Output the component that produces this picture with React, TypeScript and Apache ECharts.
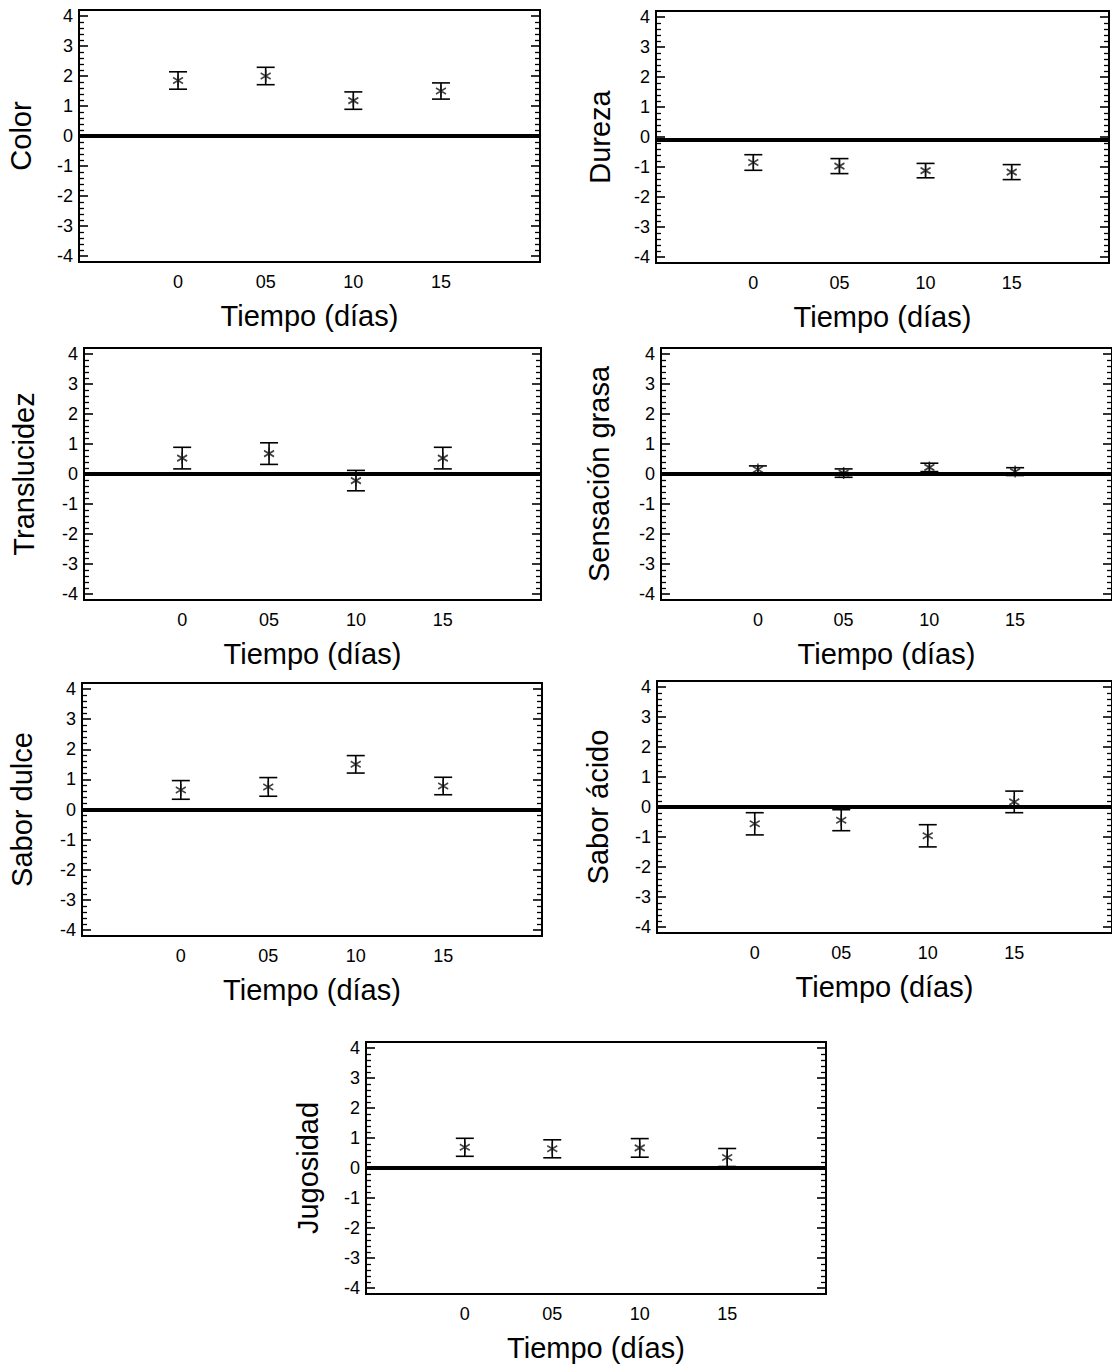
import React, { useEffect, useRef } from "react";
import * as echarts from "echarts";

// ---- Data ----
const timeValues = [0, 5, 10, 15];
const timeLabels = ["0", "05", "10", "15"];
const yTickValues = [-4, -3, -2, -1, 0, 1, 2, 3, 4];

const colorMean = [1.85, 2.0, 1.18, 1.5];
const colorErr = [0.29, 0.29, 0.29, 0.27];

const durezaMean = [-0.85, -0.97, -1.12, -1.17];
const durezaErr = [0.26, 0.25, 0.24, 0.25];

const translucidezMean = [0.53, 0.68, -0.22, 0.53];
const translucidezErr = [0.36, 0.36, 0.34, 0.36];

const grasaMean = [0.15, 0.03, 0.22, 0.08];
const grasaErr = [0.12, 0.14, 0.14, 0.13];

const dulceMean = [0.65, 0.75, 1.5, 0.78];
const dulceErr = [0.31, 0.31, 0.29, 0.29];

const acidoMean = [-0.56, -0.44, -0.96, 0.17];
const acidoErr = [0.37, 0.35, 0.37, 0.36];

const jugosidadMean = [0.69, 0.64, 0.67, 0.35];
const jugosidadErr = [0.3, 0.3, 0.31, 0.3];

const refLines = [0, -0.1, 0, 0, 0, 0, 0];

const panels = [
  { label: "Color", mean: colorMean, err: colorErr, box: [79, 10, 461, 252], gap: 44 },
  { label: "Dureza", mean: durezaMean, err: durezaErr, box: [656, 11, 453, 252], gap: 42 },
  { label: "Translucidez", mean: translucidezMean, err: translucidezErr, box: [84, 348, 457, 252], gap: 46 },
  { label: "Sensación grasa", mean: grasaMean, err: grasaErr, box: [661, 348, 453, 252], gap: 48 },
  { label: "Sabor dulce", mean: dulceMean, err: dulceErr, box: [82, 683, 460, 253], gap: 46 },
  { label: "Sabor ácido", mean: acidoMean, err: acidoErr, box: [657, 681, 455, 252], gap: 45 },
  { label: "Jugosidad", mean: jugosidadMean, err: jugosidadErr, box: [366, 1042, 460, 252], gap: 44 },
];

const FONT = "Liberation Sans, Arial, sans-serif";
const Y_MIN = -4.2;
const Y_MAX = 4.2;
const X_MIN = -5.65;
const X_MAX = 20.65;

const minorTicks: number[] = [];
for (let k = -4; k < 4; k++) {
  for (let j = 1; j < 5; j++) minorTicks.push(+(k + j * 0.2).toFixed(2));
}

const ASTERISK = "path://M5,0L5,12M0,3L10,9M0,9L10,3";

function buildOption() {
  const grid: any[] = [];
  const xAxis: any[] = [];
  const yAxis: any[] = [];
  const series: any[] = [];

  panels.forEach((p, i) => {
    const [left, top, width, height] = p.box;
    grid.push({
      left,
      top,
      width,
      height,
      show: true,
      borderColor: "#000",
      borderWidth: 2,
      backgroundColor: "transparent",
      containLabel: false,
    });
    xAxis.push({
      type: "value",
      gridIndex: i,
      min: X_MIN,
      max: X_MAX,
      axisLine: { show: false, onZero: false },
      axisTick: { show: false },
      splitLine: { show: false },
      axisLabel: {
        customValues: timeValues,
        formatter: (v: number) => timeLabels[timeValues.indexOf(v)] ?? "",
        color: "#000",
        fontSize: 18,
        fontFamily: FONT,
        margin: 11,
      },
      name: "Tiempo (días)",
      nameLocation: "middle",
      nameGap: 39,
      nameTextStyle: { color: "#000", fontSize: 29, fontFamily: FONT },
    });
    const base = {
      type: "value",
      gridIndex: i,
      min: Y_MIN,
      max: Y_MAX,
      splitLine: { show: false },
      axisLine: { show: false, onZero: false },
    };
    // left major
    yAxis.push({
      ...base,
      position: "left",
      axisTick: { show: true, inside: true, length: 9, customValues: yTickValues, lineStyle: { color: "#000", width: 1.6 } },
      axisLabel: {
        customValues: yTickValues,
        formatter: (v: number) => String(v),
        color: "#000",
        fontSize: 18,
        fontFamily: FONT,
        margin: 6,
      },
      name: p.label,
      nameLocation: "middle",
      nameGap: p.gap,
      nameTextStyle: { color: "#000", fontSize: 29, fontFamily: FONT },
    });
    // left minor
    yAxis.push({
      ...base,
      position: "left",
      axisTick: { show: true, inside: true, length: 5, customValues: minorTicks, lineStyle: { color: "#000", width: 1.3 } },
      axisLabel: { show: false },
    });
    // right major
    yAxis.push({
      ...base,
      position: "right",
      axisTick: { show: true, inside: true, length: 9, customValues: yTickValues, lineStyle: { color: "#000", width: 1.6 } },
      axisLabel: { show: false },
    });
    // right minor
    yAxis.push({
      ...base,
      position: "right",
      axisTick: { show: true, inside: true, length: 5, customValues: minorTicks, lineStyle: { color: "#000", width: 1.3 } },
      axisLabel: { show: false },
    });

    const yIdx = i * 4;
    series.push({
      type: "custom",
      xAxisIndex: i,
      yAxisIndex: yIdx,
      silent: true,
      data: timeValues.map((t, k) => [t, p.mean[k] - p.err[k], p.mean[k] + p.err[k]]),
      encode: { x: 0, y: [1, 2] },
      renderItem: (params: any, api: any) => {
        const x = api.value(0);
        const lo = api.coord([x, api.value(1)]);
        const hi = api.coord([x, api.value(2)]);
        const hw = 9;
        const st = { stroke: "#000", lineWidth: 1.6 };
        return {
          type: "group",
          children: [
            { type: "line", shape: { x1: lo[0], y1: lo[1], x2: hi[0], y2: hi[1] }, style: st },
            { type: "line", shape: { x1: lo[0] - hw, y1: lo[1], x2: lo[0] + hw, y2: lo[1] }, style: st },
            { type: "line", shape: { x1: hi[0] - hw, y1: hi[1], x2: hi[0] + hw, y2: hi[1] }, style: st },
          ],
        };
      },
    });
    series.push({
      type: "scatter",
      xAxisIndex: i,
      yAxisIndex: yIdx,
      silent: true,
      symbol: ASTERISK,
      symbolSize: [10, 12],
      itemStyle: { color: "transparent", borderColor: "#111", borderWidth: 1.6 },
      data: timeValues.map((t, k) => [t, p.mean[k]]),
      markLine: {
        silent: true,
        symbol: ["none", "none"],
        label: { show: false },
        lineStyle: { color: "#000", width: 4, type: "solid" },
        data: [{ yAxis: refLines[i] }],
      },
    });
  });

  return {
    animation: false,
    backgroundColor: "#fff",
    textStyle: { fontFamily: FONT },
    grid,
    xAxis,
    yAxis,
    series,
  };
}

export default function App() {
  const ref = useRef<HTMLDivElement>(null);
  useEffect(() => {
    document.body.style.margin = "0";
    document.body.style.overflow = "hidden";
    if (!ref.current) return;
    const chart = echarts.init(ref.current, undefined, { renderer: "svg" });
    chart.setOption(buildOption() as any);
    return () => chart.dispose();
  }, []);
  return <div ref={ref} style={{ width: 1112, height: 1365 }} />;
}
